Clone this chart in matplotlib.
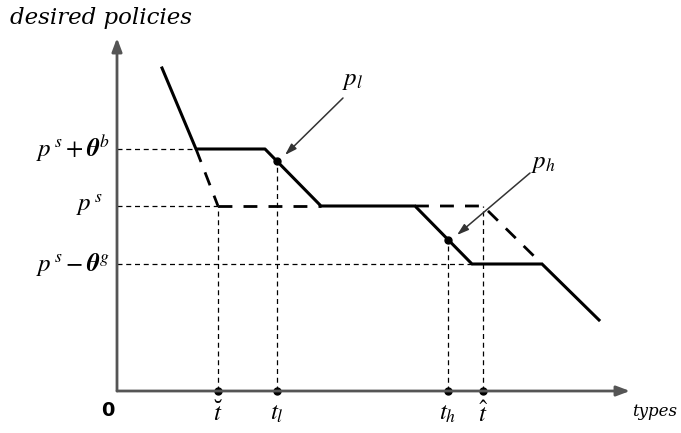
import matplotlib
matplotlib.use('Agg')
from matplotlib import pyplot as plt

plt.rcParams['mathtext.fontset'] = 'stix'

# niveles de politica (eje y), origen en el cruce de los ejes
nivel_alto = 242   # p^s + theta^b
nivel_medio = 185  # p^s
nivel_bajo = 127   # p^s - theta^g

# tipos marcados en el eje x
t_breve = 101
t_l = 160
t_h = 331
t_hat = 366

# curva solida de politicas deseadas
curva_x = [45, 79, 148, 204, 298, 355, 425, 482]
curva_y = [323, 242, 242, 185, 185, 127, 127, 71]

# tramos discontinuos alternativos
alt1_x = [79, 101]
alt1_y = [242, 185]
alt2_x = [101, 204]
alt2_y = [185, 185]
alt3_x = [298, 366, 425]
alt3_y = [185, 185, 127]

# puntos sobre la curva
p_l = (t_l, 229.8)
p_h = (t_h, 151.4)

fig = plt.figure(figsize=(6.81, 4.33), dpi=100)
ax = fig.add_axes([0, 0, 1, 1])
ax.set_xlim(-117, 564)
ax.set_ylim(-42, 391)
ax.axis('off')

# ejes con flechas
flecha_eje = dict(arrowstyle='-|>,head_width=0.3,head_length=0.8',
                  color='#555555', lw=2, shrinkA=0, shrinkB=0)
ax.annotate('', xy=(0, 353), xytext=(0, 0), arrowprops=flecha_eje)
ax.annotate('', xy=(513, 0), xytext=(0, 0), arrowprops=flecha_eje)

# lineas de referencia finas
fino = dict(color='black', lw=0.9, ls=(0, (4, 3)))
ax.plot([0, curva_x[1]], [nivel_alto, nivel_alto], **fino)
ax.plot([0, t_breve], [nivel_medio, nivel_medio], **fino)
ax.plot([0, curva_x[5]], [nivel_bajo, nivel_bajo], **fino)
ax.plot([t_breve, t_breve], [0, nivel_medio], **fino)
ax.plot([t_l, t_l], [0, p_l[1]], **fino)
ax.plot([t_h, t_h], [0, p_h[1]], **fino)
ax.plot([t_hat, t_hat], [0, nivel_medio], **fino)

# tramos discontinuos gruesos
grueso = dict(color='black', lw=2, ls=(0, (5, 4)))
ax.plot(alt1_x, alt1_y, **grueso)
ax.plot(alt2_x, alt2_y, **grueso)
ax.plot(alt3_x, alt3_y, **grueso)

# curva principal
ax.plot(curva_x, curva_y, color='black', lw=2.2)

# puntos
ax.plot([t_breve, t_l, t_h, t_hat], [0, 0, 0, 0], 'o', color='black', ms=5)
ax.plot([p_l[0], p_h[0]], [p_l[1], p_h[1]], 'o', color='black', ms=5)

# etiquetas de los tipos
etiquetas_t = [r'$\breve{t}$', r'$t_{l}$', r'$t_{h}$', r'$\hat{t}$']
for xt, et in zip([t_breve, t_l, t_h, t_hat], etiquetas_t):
    ax.text(xt, -10, et, ha='center', va='top', fontsize=18)

# etiquetas del eje y
ax.text(-7, nivel_alto, r'$p^{\,s}+\boldsymbol{\theta}^{b}$', ha='right', va='center', fontsize=18)
ax.text(-14, nivel_medio, r'$p^{\,s}$', ha='right', va='center', fontsize=18)
ax.text(-7, nivel_bajo, r'$p^{\,s}-\boldsymbol{\theta}^{g}$', ha='right', va='center', fontsize=18)

# flechas de p_l y p_h
flecha_p = dict(arrowstyle='-|>,head_width=0.22,head_length=0.7',
                color='#333333', lw=1.1, shrinkA=0, shrinkB=0)
ax.annotate('', xy=(168, 236), xytext=(226, 293), arrowprops=flecha_p)
ax.annotate('', xy=(340, 156), xytext=(413, 218), arrowprops=flecha_p)
ax.text(236, 311, r'$p_{l}$', ha='center', va='center', fontsize=18)
ax.text(426, 228, r'$p_{h}$', ha='center', va='center', fontsize=18)

# textos
ax.text(-107, 373, 'desired policies', fontsize=16.5, style='italic', family='DejaVu Serif', va='center')
ax.text(-9, -19, '0', fontsize=14, fontweight='bold', ha='center', va='center')
ax.text(560, -20, 'types', fontsize=12, style='italic', family='DejaVu Serif', ha='right', va='center')

fig.savefig('out.png', dpi=100)
